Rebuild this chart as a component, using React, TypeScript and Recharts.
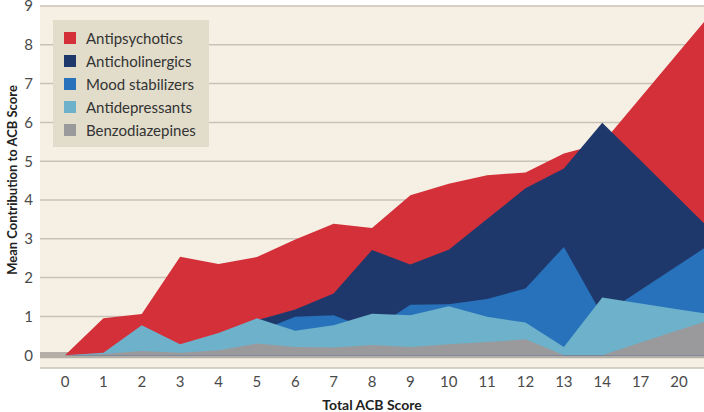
import React from 'react';
import { AreaChart, Area, XAxis, YAxis, CartesianGrid, ReferenceArea, Label } from 'recharts';

// Total ACB score categories (x axis tick labels)
const scoreLabels = ['0', '1', '2', '3', '4', '5', '6', '7', '8', '9', '10', '11', '12', '13', '14', '17', '20'];
const yTicks = [0, 1, 2, 3, 4, 5, 6, 7, 8, 9];

// Mean contribution values (cumulative, drawn overlapping). The last value of each
// series is the continuation past "20" that the reference cuts off at its right edge.
const antipsychotics = [0, 0.95, 1.06, 2.54, 2.35, 2.53, 2.98, 3.39, 3.28, 4.12, 4.42, 4.64, 4.71, 5.2, 5.46, 6.64, 7.82, 9.0];
const anticholinergics = [0, 0.02, 0.2, 0.15, 0.45, 0.9, 1.18, 1.59, 2.71, 2.34, 2.72, 3.51, 4.3, 4.81, 5.99, 5.02, 4.04, 3.06];
const moodStabilizers = [0, 0.02, 0.1, 0.1, 0.3, 0.6, 0.99, 1.03, 0.65, 1.3, 1.31, 1.45, 1.72, 2.79, 1.03, 1.68, 2.33, 2.98];
const antidepressants = [0, 0.06, 0.77, 0.28, 0.57, 0.95, 0.63, 0.77, 1.07, 1.03, 1.26, 0.99, 0.84, 0.21, 1.49, 1.33, 1.18, 1.03];
const benzodiazepines = [0, 0.03, 0.11, 0.06, 0.13, 0.3, 0.21, 0.2, 0.26, 0.21, 0.28, 0.34, 0.41, 0, 0, 0.33, 0.65, 0.97];

const series = [
  { key: 'antipsychotics', name: 'Antipsychotics', color: '#d3303a', values: antipsychotics },
  { key: 'anticholinergics', name: 'Anticholinergics', color: '#1f386c', values: anticholinergics },
  { key: 'mood', name: 'Mood stabilizers', color: '#2872bb', values: moodStabilizers },
  { key: 'antidepressants', name: 'Antidepressants', color: '#6db1ca', values: antidepressants },
  { key: 'benzo', name: 'Benzodiazepines', color: '#9a9a9c', values: benzodiazepines },
];

const data = antipsychotics.map((_, i) => {
  const row: Record<string, number> = { pos: i };
  series.forEach((s) => {
    row[s.key] = s.values[i];
  });
  return row;
});

const FONT = 'Lato, "Open Sans", sans-serif';

const YLabel = (props: any) => {
  const vb = props.viewBox || { x: 0, y: 0, width: 40, height: 362 };
  const cx = vb.x + 12;
  const cy = vb.y + vb.height / 2 - 7;
  return (
    <text
      x={cx}
      y={cy}
      transform={`rotate(-90, ${cx}, ${cy})`}
      textAnchor="middle"
      dominantBaseline="central"
      fontFamily={FONT}
      fontWeight={700}
      fontSize={13}
      fill="#222"
    >
      Mean Contribution to ACB Score
    </text>
  );
};

export default function App() {
  return (
    <div style={{ position: 'absolute', left: 0, top: 0, width: 704, height: 412, background: '#fff' }}>
      <AreaChart
        width={704}
        height={412}
        data={data}
        margin={{ top: 6, right: 0, bottom: 0, left: 0 }}
      >
        <CartesianGrid
          vertical={false}
          horizontal={true}
          fill="#f6f0e4"
          stroke="#c9c3b7"
          strokeWidth={1.5}
          fillOpacity={1}
        />
        <XAxis
          type="number"
          dataKey="pos"
          domain={[-0.6515, 16.6515]}
          ticks={scoreLabels.map((_, i) => i)}
          tickFormatter={(v: number) => scoreLabels[v] ?? ''}
          allowDataOverflow
          interval={0}
          height={44}
          axisLine={false}
          tickLine={false}
          tickSize={0}
          tickMargin={8}
          tick={{ fill: '#4a4a4a', fontSize: 15, fontFamily: FONT }}
        >
          <Label
            value="Total ACB Score"
            position="insideBottom"
            offset={2}
            style={{ fontFamily: FONT, fontWeight: 700, fontSize: 14, fill: '#222' }}
          />
        </XAxis>
        <YAxis
          type="number"
          domain={[-0.33, 9]}
          ticks={yTicks}
          allowDataOverflow
          interval={0}
          width={40}
          axisLine={false}
          tickLine={false}
          tickSize={0}
          tickMargin={7}
          tick={{ fill: '#4a4a4a', fontSize: 15, fontFamily: FONT }}
          label={<YLabel />}
        />
        <ReferenceArea y1={-0.08} y2={0.08} fill="#b3aea6" fillOpacity={1} stroke="none" ifOverflow="visible" />
        {series.map((s) => (
          <Area
            key={s.key}
            type="linear"
            dataKey={s.key}
            name={s.name}
            stroke="none"
            fill={s.color}
            fillOpacity={1}
            baseValue={0}
            isAnimationActive={false}
            dot={false}
            activeDot={false}
          />
        ))}
      </AreaChart>
      <div
        style={{
          position: 'absolute',
          left: 53,
          top: 20,
          width: 156,
          height: 127,
          background: '#e2ddcb',
          boxSizing: 'border-box',
          paddingTop: 6,
          fontFamily: FONT,
          fontSize: 15,
          color: '#333',
        }}
      >
        {series.map((s) => (
          <div key={s.key} style={{ display: 'flex', alignItems: 'center', height: 23.1 }}>
            <div style={{ width: 12, height: 12, background: s.color, marginLeft: 11, marginRight: 10, flexShrink: 0 }} />
            <span style={{ whiteSpace: 'nowrap' }}>{s.name}</span>
          </div>
        ))}
      </div>
    </div>
  );
}
